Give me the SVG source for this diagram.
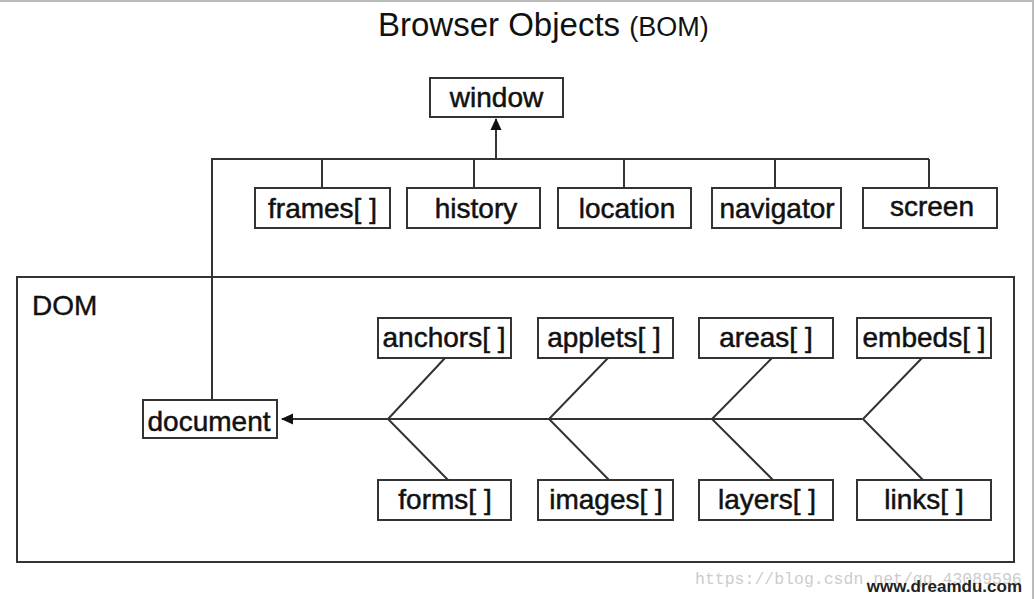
<svg xmlns="http://www.w3.org/2000/svg" width="1036" height="599" viewBox="0 0 1036 599">
<style>
.box{fill:#fff;stroke:#333;stroke-width:2}
.lbl{font-family:"Liberation Sans",Arial,sans-serif;font-size:28px;fill:#111;stroke:#111;stroke-width:0.5;text-anchor:middle}
.ln{fill:none;stroke:#333;stroke-width:2}
</style>
<defs>
<marker id="ah" markerWidth="12" markerHeight="12" refX="11" refY="6" orient="auto" markerUnits="userSpaceOnUse" viewBox="0 0 12 12">
<path d="M0,0.5 L12,6 L0,11.5 z" fill="#111"/>
</marker>
</defs>
<rect x="0" y="0" width="1036" height="599" fill="#fff"/>
<rect x="-2" y="1" width="1035" height="620" fill="none" stroke="#bbb" stroke-width="2"/>
<text x="378" y="36" font-family="Liberation Sans,Arial,sans-serif" font-size="33" fill="#111">Browser Objects <tspan font-size="27">(BOM)</tspan></text>
<g id="dom-frame">
<rect x="17" y="277" width="997" height="285" class="box" fill="none"/>
<text x="32" y="315" font-family="Liberation Sans,Arial,sans-serif" font-size="28" fill="#111" stroke="#111" stroke-width="0.4">DOM</text>
</g>
<g id="connectors">
<path class="ln" d="M496,159 L496,119" marker-end="url(#ah)"/>
<path class="ln" d="M212,400 L212,159 L929,159"/>
<path class="ln" d="M322,159 V188 M474,159 V188 M624,159 V188 M775,159 V188 M929,159 V188"/>
<path class="ln" d="M862,419 L282,419" marker-end="url(#ah)"/>
<path class="ln" d="M445,358 L388,419 L448,480"/>
<path class="ln" d="M608,358 L549,419 L609,480"/>
<path class="ln" d="M772,358 L712,419 L773,480"/>
<path class="ln" d="M922,358 L863,419 L923,480"/>
</g>
<g id="window"><rect class="box" x="430" y="78" width="133" height="39"/><text class="lbl" x="496.5" y="107">window</text></g>
<g id="frames"><rect class="box" x="255" y="188" width="135" height="40"/><text class="lbl" x="322.5" y="218">frames[ ]</text></g>
<g id="history"><rect class="box" x="407" y="188" width="133" height="40"/><text class="lbl" x="476" y="218">history</text></g>
<g id="location"><rect class="box" x="558" y="188" width="133" height="40"/><text class="lbl" x="627" y="218">location</text></g>
<g id="navigator"><rect class="box" x="712" y="188" width="129" height="40"/><text class="lbl" x="777" y="218">navigator</text></g>
<g id="screen"><rect class="box" x="863" y="188" width="134" height="40"/><text class="lbl" x="932" y="216">screen</text></g>
<g id="document"><rect class="box" x="143" y="400" width="134" height="38"/><text class="lbl" x="209" y="431">document</text></g>
<g id="anchors"><rect class="box" x="378" y="318" width="133" height="40"/><text class="lbl" x="444" y="347">anchors[ ]</text></g>
<g id="applets"><rect class="box" x="538" y="318" width="135" height="40"/><text class="lbl" x="604" y="347">applets[ ]</text></g>
<g id="areas"><rect class="box" x="699" y="318" width="134" height="40"/><text class="lbl" x="766" y="347">areas[ ]</text></g>
<g id="embeds"><rect class="box" x="857" y="318" width="134" height="40"/><text class="lbl" x="924" y="347">embeds[ ]</text></g>
<g id="forms"><rect class="box" x="378" y="480" width="133" height="40"/><text class="lbl" x="445" y="509">forms[ ]</text></g>
<g id="images"><rect class="box" x="538" y="480" width="135" height="40"/><text class="lbl" x="606" y="509">images[ ]</text></g>
<g id="layers"><rect class="box" x="699" y="480" width="134" height="40"/><text class="lbl" x="767" y="509">layers[ ]</text></g>
<g id="links"><rect class="box" x="857" y="480" width="134" height="40"/><text class="lbl" x="924" y="509">links[ ]</text></g>
<text x="695" y="584" font-family="Liberation Mono,monospace" font-size="16.5" fill="#ccc">https://blog.csdn.net/qq_43089596</text>
<text x="1022" y="592" text-anchor="end" font-family="Liberation Sans,Arial,sans-serif" font-size="17" font-weight="bold" fill="#222">www.dreamdu.com</text>
</svg>
